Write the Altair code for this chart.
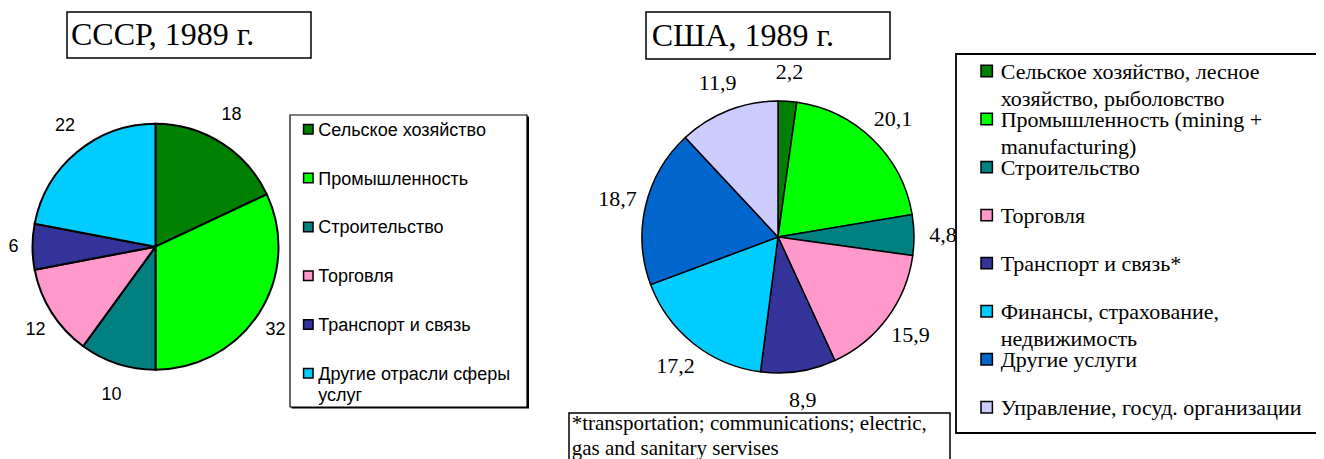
import altair as alt
import pandas as pd

# ---------------- data ----------------
ussr_title = "СССР, 1989 г."
ussr_cats = ["Сельское хозяйство", "Промышленность", "Строительство", "Торговля",
             "Транспорт и связь", "Другие отрасли сферы\nуслуг"]
ussr_values = [18, 32, 10, 12, 6, 22]
ussr_labels = ["18", "32", "10", "12", "6", "22"]
ussr_colors = ["#008000", "#00FF00", "#008080", "#FF99CC", "#333399", "#00CCFF"]

us_title = "США, 1989 г."
us_cats = ["Сельское хозяйство,  лесное\nхозяйство, рыболовство",
           "Промышленность  (mining +\nmanufacturing)",
           "Строительство", "Торговля", "Транспорт и связь*",
           "Финансы, страхование,\nнедвижимость", "Другие услуги",
           "Управление, госуд. организации"]
us_values = [2.2, 20.1, 4.8, 15.9, 8.9, 17.2, 18.7, 11.9]
us_labels = ["2,2", "20,1", "4,8", "15,9", "8,9", "17,2", "18,7", "11,9"]
us_colors = ["#008000", "#00FF00", "#008080", "#FF99CC", "#333399", "#00CCFF",
             "#0066CC", "#CCCCFF"]

footnote = "*transportation; communications; electric,\ngas and sanitary servises"

SANS = "Liberation Sans"
SERIF = "Liberation Serif"

ussr_df = pd.DataFrame({"idx": list(range(len(ussr_cats))), "cat": ussr_cats,
                        "value": ussr_values, "label": ussr_labels})
us_df = pd.DataFrame({"idx": list(range(len(us_cats))), "cat": us_cats,
                      "value": us_values, "label": us_labels})
dummy = pd.DataFrame({"a": [0]})


def box(x1, y1, x2, y2, sw=1.5, fill="white", stroke="black"):
    return alt.Chart(dummy).mark_rect(fill=fill, stroke=stroke, strokeWidth=sw).encode(
        x=alt.value(x1), x2=alt.value(x2), y=alt.value(y1), y2=alt.value(y2))


def pie_group(df, colors, cx, cy, r, lr, sw, lfont, lsize,
              mx, tx, yrange, msize, tfont, tsize, tdy, tlh, with_labels=True):
    cscale = alt.Scale(domain=list(range(len(colors))), range=colors)
    arcs = alt.Chart(df).mark_arc(outerRadius=r, stroke="black", strokeWidth=sw).encode(
        theta=alt.Theta("value:Q", stack=True),
        order=alt.Order("idx:Q", sort="ascending"),
        color=alt.Color("idx:N", scale=cscale, legend=None),
        x=alt.value(cx), y=alt.value(cy))
    layers = [arcs]
    if with_labels:
        labels = alt.Chart(df).mark_text(radius=lr, font=lfont, fontSize=lsize, color="black",
                                         align="center", baseline="middle").encode(
            theta=alt.Theta("value:Q", stack=True),
            order=alt.Order("idx:Q", sort="ascending"),
            detail="idx:N",
            text="label:N",
            x=alt.value(cx), y=alt.value(cy))
        layers.append(labels)
    yscale = alt.Scale(domain=[0, len(colors) - 1], range=yrange)
    markers = alt.Chart(df).mark_square(size=msize, stroke="black", strokeWidth=1.5,
                                        opacity=1, filled=True).encode(
        x=alt.value(mx),
        y=alt.Y("idx:Q", scale=yscale, axis=None),
        color=alt.Color("idx:N", scale=cscale, legend=None))
    texts = alt.Chart(df).mark_text(align="left", baseline="alphabetic", dy=tdy,
                                    font=tfont, fontSize=tsize, lineBreak="\n",
                                    lineHeight=tlh, color="black").encode(
        x=alt.value(tx),
        y=alt.Y("idx:Q", scale=yscale, axis=None),
        text="cat:N")
    layers += [markers, texts]
    return alt.layer(*layers)


def ellipse_labels(df, cx, cy, rx, ry, font, size):
    # label at the middle angle of each slice, on an ellipse around the pie
    return alt.Chart(df).transform_window(
        cum="sum(value)", sort=[alt.SortField("idx")], frame=[None, 0]
    ).transform_joinaggregate(
        total="sum(value)"
    ).transform_calculate(
        mid="(datum.cum - datum.value / 2) / datum.total * 2 * PI",
        lx=f"{cx} + {rx} * sin(datum.mid)",
        ly=f"{cy} - {ry} * cos(datum.mid)",
    ).mark_text(font=font, fontSize=size, color="black", align="center",
                baseline="middle").encode(
        x=alt.X("lx:Q", scale=None, axis=None),
        y=alt.Y("ly:Q", scale=None, axis=None),
        text="label:N")


def text_at(t, x, y, font, size, lh=None):
    kw = dict(text=t, font=font, fontSize=size, align="left", baseline="alphabetic",
              color="black")
    if lh is not None:
        kw["lineBreak"] = "\n"
        kw["lineHeight"] = lh
    return alt.Chart(dummy).mark_text(**kw).encode(x=alt.value(x), y=alt.value(y))


boxes = [
    box(59, 4, 303, 50),                                   # USSR title box
    box(638, 4, 882, 51),                                  # US title box
    box(283.5, 108.5, 521, 400.5, sw=0, fill="black"),     # USSR legend shadow
    box(282, 107, 519, 399, sw=1.2),                       # USSR legend box
    box(948, 46, 1330, 425, sw=1.8),                       # US legend box
    box(561, 405, 942, 470),                               # footnote box
]

ussr = pie_group(ussr_df, ussr_colors, 147.5, 238.7, 123, 146, 2, SANS, 18,
                 300.3, 310.3, [121.3, 365.3], 90, SANS, 18, 6.5, 21, with_labels=False)
ussr_lab = ellipse_labels(ussr_df, 147.5, 238.7, 142, 156, SANS, 18)
us = pie_group(us_df, us_colors, 770, 229, 136, 165, 1.5, SERIF, 22,
               978.7, 992.7, [63, 399.3], 130, SERIF, 22, 8, 27)

titles = [
    text_at(ussr_title, 63, 37, SERIF, 32),
    text_at(us_title, 643.7, 37.7, SERIF, 32),
    text_at(footnote, 563.7, 422, SERIF, 21, lh=25),
]

chart = alt.layer(*boxes, ussr, ussr_lab, us, *titles).resolve_scale(
    theta="independent", color="independent", y="independent", x="independent"
).properties(
    width=1308, height=451, padding=0,
    autosize=alt.AutoSizeParams(type="none"),
).configure_view(stroke=None)

chart.save("out.html", embed_options={"renderer": "svg", "actions": False})
